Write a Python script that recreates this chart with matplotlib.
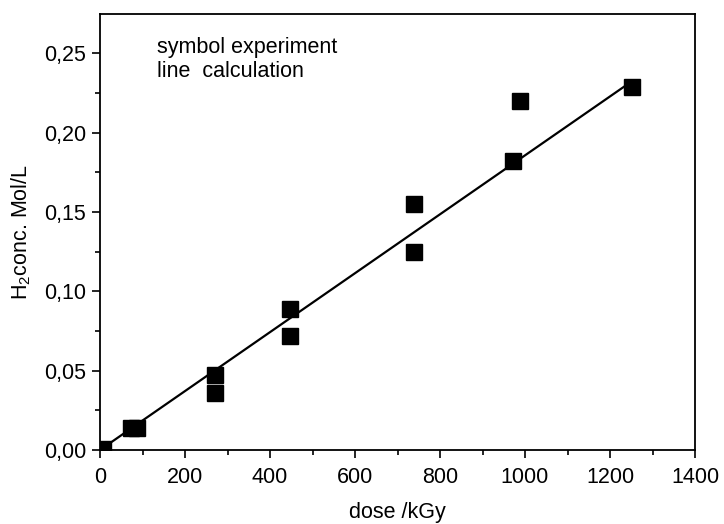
import matplotlib
matplotlib.use("Agg")
import matplotlib.pyplot as plt
from matplotlib.ticker import MultipleLocator, FuncFormatter

plt.rcParams['font.family'] = ['Liberation Sans', 'DejaVu Sans']
plt.rcParams['mathtext.fontset'] = 'custom'
plt.rcParams['mathtext.rm'] = 'Liberation Sans'

dose = [8, 74, 86, 270, 270, 447, 447, 738, 738, 972, 988, 1252]
h2_conc = [0.0005, 0.014, 0.014, 0.047, 0.036, 0.089, 0.072, 0.155, 0.125, 0.182, 0.220, 0.229]
calc_dose = [0, 1252]
calc_conc = [0, 0.2325]

fig = plt.figure(figsize=(7.24, 5.24), dpi=100)
ax = fig.add_axes([100/724, 1-450/524, 595/724, 436/524])

ax.plot(calc_dose, calc_conc, color='black', lw=1.6, zorder=2)
ax.plot(dose, h2_conc, 's', color='black', ms=12, zorder=3)

fs = 15.5
ax.set_xlim(0, 1400)
ax.set_ylim(0, 0.2748)
ax.xaxis.set_major_locator(MultipleLocator(200))
ax.xaxis.set_minor_locator(MultipleLocator(100))
ax.yaxis.set_major_locator(MultipleLocator(0.05))
ax.yaxis.set_minor_locator(MultipleLocator(0.025))
ax.yaxis.set_major_formatter(FuncFormatter(lambda v, p: f"{v:.2f}".replace('.', ',')))
ax.tick_params(which='major', direction='out', length=6, width=1.2, labelsize=fs)
ax.tick_params(axis='x', which='major', pad=6)
ax.tick_params(axis='y', which='major', pad=4)
ax.tick_params(which='minor', direction='out', length=3.5, width=1.2)
for s in ax.spines.values():
    s.set_linewidth(1.3)

ax.set_xlabel('dose /kGy', fontsize=fs, labelpad=10)
ax.set_ylabel('H$_2$conc. Mol/L', fontsize=fs, labelpad=8)

ax.text(134, 0.246, 'symbol experiment\nline  calculation', fontsize=fs,
        va='center', ha='left', linespacing=1.15)

fig.savefig('out.png', dpi=100)
